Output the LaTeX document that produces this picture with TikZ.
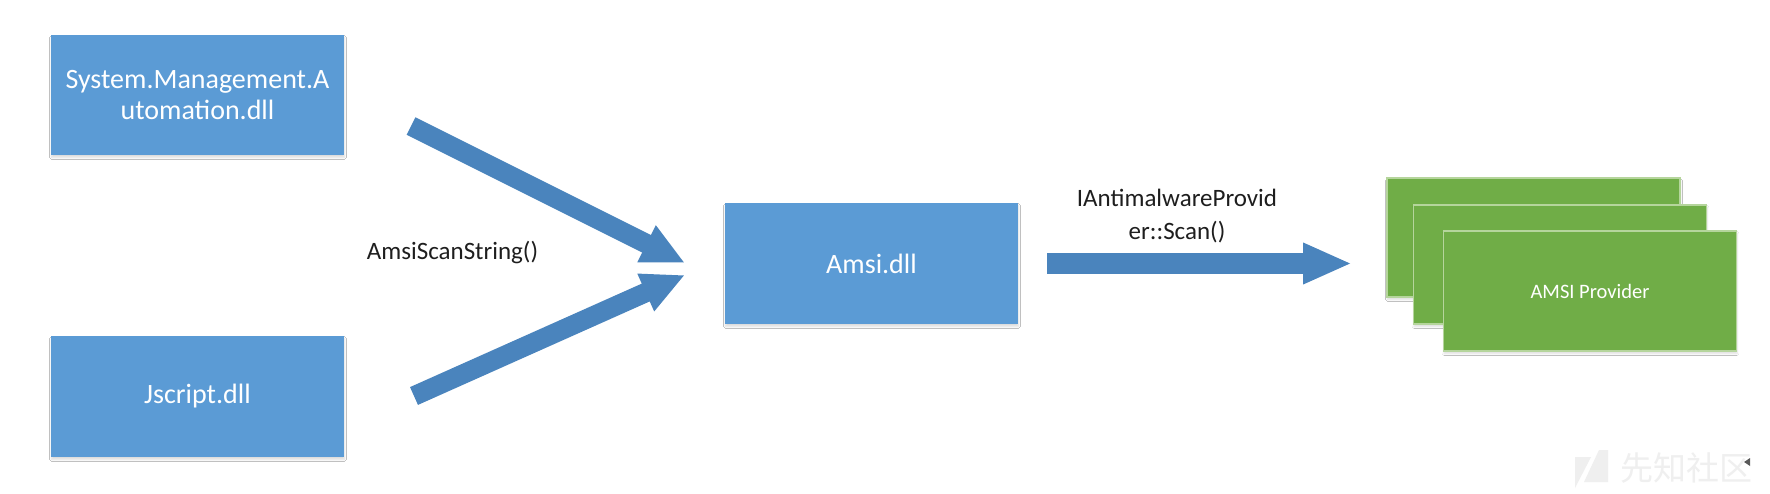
\documentclass[tikz,border=0pt]{standalone}
\usepackage{fontspec}
\setmainfont{Carlito}
\newfontfamily\cjkfont{Noto Sans CJK SC}
\usetikzlibrary{arrows.meta,shadows.blur}
\definecolor{boxblue}{HTML}{5B9BD5}
\definecolor{arrowblue}{HTML}{4A84BD}
\definecolor{boxgreen}{HTML}{70AD47}
\definecolor{greenedge}{HTML}{B5D59C}
\definecolor{labelgray}{HTML}{1E1E1E}
\definecolor{wmgray}{HTML}{EFEFEF}
\tikzset{
  bluebox/.style={rectangle, fill=boxblue, draw=none, inner sep=0pt, outer sep=0pt,
    minimum width=293pt, minimum height=121pt, text=white, align=center,
    font=\fontsize{28}{31}\selectfont,
    blur shadow={shadow xshift=0.5pt, shadow yshift=-2.5pt, shadow blur steps=8, shadow opacity=14}},
  greenbox/.style={rectangle, fill=boxgreen, draw=greenedge, line width=1.2pt, inner sep=0pt, outer sep=0pt,
    minimum width=293pt, minimum height=119pt, text=white,
    font=\fontsize{20.5}{24}\selectfont,
    blur shadow={shadow xshift=0.5pt, shadow yshift=-2.5pt, shadow blur steps=8, shadow opacity=14}},
  fatarrow/.style={draw=arrowblue, line width=19.5pt, line cap=butt,
    -{Triangle[width=38pt 0, length=43pt 0]}},
  flatarrow/.style={draw=arrowblue, line width=21pt, line cap=butt,
    -{Triangle[width=38pt 0, length=49pt 0]}},
  calllabel/.style={text=labelgray, align=center, inner sep=0pt,
    font=\fontsize{25}{33}\selectfont}
}
\begin{document}
\begin{tikzpicture}[x=1pt, y=-1pt]
\useasboundingbox (0,0) rectangle (1770,494);
\fill[white] (0,0) rectangle (1770,494);

% source boxes
\node[bluebox, minimum height=120pt] (sma) at (197.5,95) {System.Management.A\\utomation.dll};
\node[bluebox] (jscript) at (197.5,396.5) {Jscript.dll};
\node[bluebox] (amsi) at (871.5,263.5) {Amsi.dll};

% provider stack
\node[greenbox] (prov3) at (1533.5,237.5) {};
\node[greenbox] (prov2) at (1560,264.5) {};
\node[greenbox, minimum height=120pt] (prov1) at (1590,291) {AMSI Provider};

% arrows
\coordinate (t1) at (411,126);
\coordinate (h1) at (685,263);
\coordinate (t2) at (414,396);
\coordinate (h2) at (685,275);
\coordinate (t3) at (1047,263.5);
\coordinate (h3) at (1352,263.5);
\draw[fatarrow] (t1) -- (h1);
\draw[fatarrow] (t2) -- (h2);
\draw[flatarrow] (t3) -- (h3);

% labels
\node[calllabel] (scanstr) at (452.5,253) {AmsiScanString()};
\node[calllabel] (scanprov) at (1177,216.5) {IAntimalwareProvid\\er::Scan()};

% watermark
\fill[wmgray] (1575,457) -- (1591,457) -- (1575,488) -- cycle;
\fill[wmgray] (1599,450) -- (1608,450) -- (1608,482) -- (1584,482) -- cycle;
\node[text=wmgray, inner sep=0pt, font=\cjkfont\fontsize{33}{33}\selectfont] (wm) at (1686,468) {先知社区};
\fill[black!65] (1744,462) -- (1750,458) -- (1750,466) -- cycle;
\end{tikzpicture}
\end{document}
